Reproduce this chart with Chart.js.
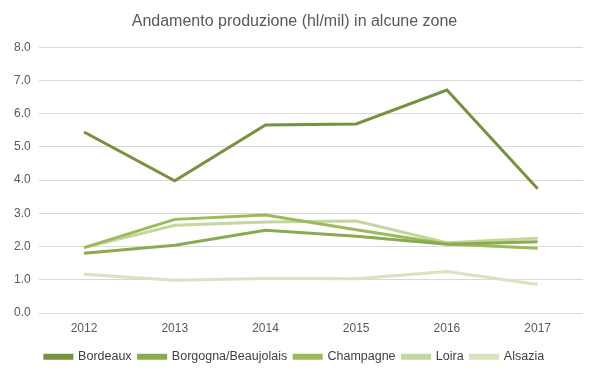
<!DOCTYPE html>
<html>
<head>
<meta charset="utf-8">
<script src="https://cdn.jsdelivr.net/npm/chart.js@4"></script>
<style>
html,body{margin:0;padding:0;background:#fff;}
#wrap{width:599px;height:378px;}
</style>
</head>
<body>
<div id="wrap"><canvas id="c" width="599" height="378"></canvas></div>
<script>
const years = ["2012","2013","2014","2015","2016","2017"];
const bordeaux = [5.45, 3.98, 5.66, 5.69, 6.71, 3.74];
const borgogna = [1.80, 2.04, 2.49, 2.31, 2.07, 2.15];
const champagne = [1.97, 2.82, 2.95, 2.51, 2.08, 1.95];
const loira = [1.97, 2.64, 2.74, 2.77, 2.12, 2.25];
const alsazia = [1.17, 0.99, 1.04, 1.03, 1.25, 0.86];
const seriesNames = ["Bordeaux","Borgogna/Beaujolais","Champagne","Loira","Alsazia"];
const colors = ["#77923c","#8aab4f","#9bbb59","#c3d69b","#d7e4bd"];

const data = [bordeaux, borgogna, champagne, loira, alsazia];
const datasets = data.map((d,i)=>({
  label: seriesNames[i],
  data: d,
  borderColor: colors[i],
  backgroundColor: colors[i],
  borderWidth: 3,
  pointRadius: 0,
  tension: 0,
  fill: false,
  order: i
}));

new Chart(document.getElementById('c'), {
  type: 'line',
  data: { labels: years, datasets: datasets },
  options: {
    responsive: false,
    animation: false,
    devicePixelRatio: 1,
    layout: { padding: { left: 6, right: 16, top: 4, bottom: 5 } },
    plugins: {
      title: {
        display: true,
        text: 'Andamento produzione (hl/mil) in alcune zone',
        color: '#595959',
        font: { family: '"Liberation Sans Narrow", "Liberation Sans", sans-serif', size: 16, weight: 'normal' },
        padding: { top: 8, bottom: 16 }
      },
      legend: {
        position: 'bottom',
        labels: {
          color: '#404040',
          font: { family: '"Liberation Sans Narrow", "Liberation Sans", sans-serif', size: 12.5 },
          boxWidth: 27,
          boxHeight: 3,
          padding: 7
        }
      },
      tooltip: { enabled: false }
    },
    scales: {
      x: {
        offset: true,
        grid: { display: false, drawTicks: false },
        border: { display: false },
        ticks: { color: '#595959', font: { family: '"Liberation Sans", sans-serif', size: 12 }, padding: 8 }
      },
      y: {
        min: 0, max: 8,
        grid: { color: '#d9d9d9', lineWidth: 1, drawTicks: false },
        border: { display: false },
        ticks: {
          stepSize: 1,
          color: '#595959',
          font: { family: '"Liberation Sans", sans-serif', size: 12 },
          padding: 8,
          callback: v => Number(v).toFixed(1)
        }
      }
    }
  }
});
</script>
</body>
</html>
